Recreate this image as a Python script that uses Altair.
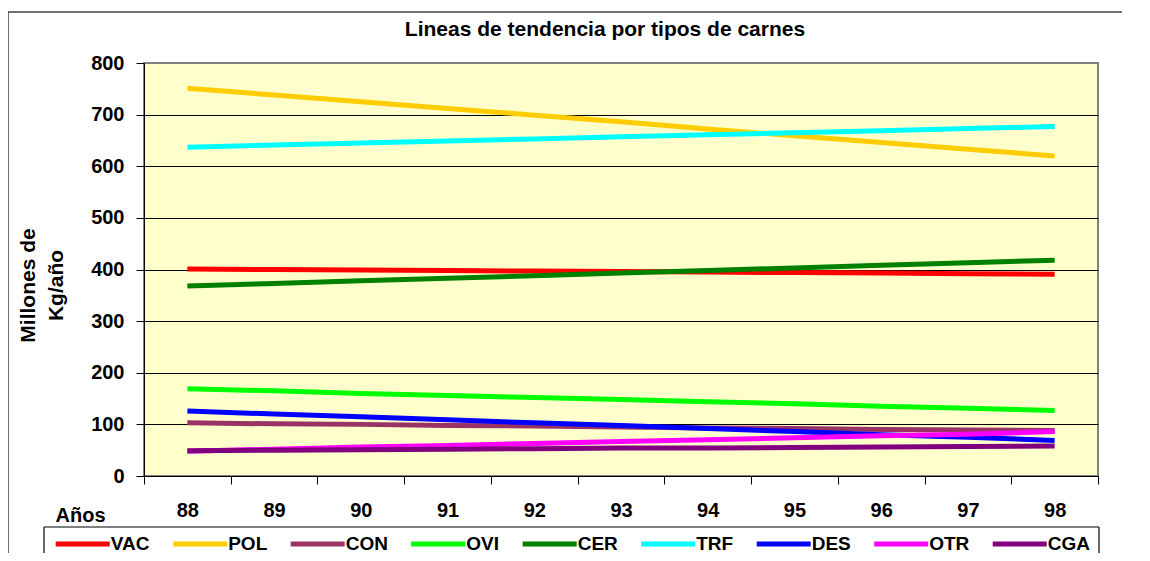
import altair as alt
import pandas as pd

FONT = "Liberation Sans"

chart_title = "Lineas de tendencia por tipos de carnes"
years = ["88", "89", "90", "91", "92", "93", "94", "95", "96", "97", "98"]
series = ["VAC", "POL", "CON", "OVI", "CER", "TRF", "DES", "OTR", "CGA"]
colors = ["#FF0000", "#FFCC00", "#993366", "#00FF00", "#008000",
          "#00FFFF", "#0000FF", "#FF00FF", "#800080"]

vac = [401, 400, 399, 398, 397, 396, 395, 394, 393, 392, 391]
pol = [751, 738, 725, 712, 699, 686, 672, 659, 646, 633, 620]
con = [103, 101, 100, 98, 97, 95, 93, 92, 90, 89, 88]
ovi = [169, 165, 160, 156, 152, 148, 144, 140, 135, 131, 127]
cer = [368, 373, 378, 383, 388, 393, 398, 403, 408, 413, 418]
trf = [637, 641, 645, 649, 653, 657, 661, 665, 669, 673, 677]
des = [126, 120, 115, 109, 103, 98, 92, 86, 80, 75, 69]
otr = [48, 52, 56, 59, 63, 67, 70, 74, 78, 81, 86]
cga = [49, 50, 51, 52, 53, 54, 54, 55, 56, 57, 58]

values_by_series = [vac, pol, con, ovi, cer, trf, des, otr, cga]

rows = []
for name, vals in zip(series, values_by_series):
    for yr, v in zip(years, vals):
        rows.append({"serie": name, "year": yr, "value": v})
df = pd.DataFrame(rows)

x_enc = alt.X(
    "year:O",
    sort=years,
    scale=alt.Scale(type="band", paddingInner=0, paddingOuter=0),
    axis=alt.Axis(
        title="Años",
        titleX=-89, titleY=45, titleAlign="left", titleBaseline="alphabetic",
        titleFont=FONT, titleFontSize=20, titleFontWeight="bold", titleColor="black",
        labelAngle=0, labelFont=FONT, labelFontSize=20, labelFontWeight="bold",
        labelColor="black", labelPadding=16,
        tickBand="extent", ticks=True, tickSize=8, tickColor="black", tickWidth=1,
        domainColor="black", domainWidth=1, grid=False,
    ),
)
y_enc = alt.Y(
    "value:Q",
    scale=alt.Scale(domain=[0, 800], nice=False, zero=True),
    axis=alt.Axis(
        title=["Millones de", "Kg/año"],
        titleX=-110, titleY=222, titleAngle=270, titleAlign="center",
        titleBaseline="alphabetic", titleLineHeight=28,
        titleFont=FONT, titleFontSize=21, titleFontWeight="bold", titleColor="black",
        values=[0, 100, 200, 300, 400, 500, 600, 700, 800],
        labelFont=FONT, labelFontSize=20, labelFontWeight="bold", labelColor="black",
        labelPadding=12,
        tickSize=8, tickColor="black", tickWidth=1,
        domainColor="black", domainWidth=1,
        grid=True,
        gridColor={"condition": {"test": "datum.value === 800", "value": "#808080"},
                   "value": "#000000"},
        gridWidth=1,
    ),
)
color_enc = alt.Color(
    "serie:N",
    sort=series,
    scale=alt.Scale(domain=series, range=colors),
    legend=alt.Legend(
        title=None, orient="none", legendX=-74.8, legendY=467.2,
        direction="horizontal", columns=9,
        symbolType="M-2.5,0H2.5", symbolSize=466.56, symbolStrokeWidth=5,
        symbolOpacity=1,
        labelFont=FONT, labelFontSize=19, labelFontWeight="bold", labelColor="black",
        labelOffset=14.5, labelLimit=200, columnPadding=12.5, padding=0,
    ),
)

layers = []
for s in series:
    layers.append(
        alt.Chart(df)
        .transform_filter(alt.datum.serie == s)
        .mark_line(strokeWidth=5, strokeCap="butt")
        .encode(x=x_enc, y=y_enc, color=color_enc)
    )

one = alt.Data(values=[{"k": 1}])

title_mark = alt.Chart(one).mark_text(
    text=chart_title, font=FONT, fontSize=21, fontWeight="bold", color="black",
    align="center", baseline="alphabetic",
).encode(x=alt.value(461), y=alt.value(-27))

frame_style = dict(color="#404040", strokeWidth=1.5)
frame_top = alt.Chart(one).mark_rule(**frame_style).encode(
    x=alt.value(-136), x2=alt.value(978), y=alt.value(-51)
)
frame_left = alt.Chart(one).mark_rule(**frame_style).encode(
    x=alt.value(-136), y=alt.value(-51), y2=alt.value(490)
)

box_style = dict(color="black", strokeWidth=1.2)
box_top = alt.Chart(one).mark_rule(**box_style).encode(
    x=alt.value(-100), x2=alt.value(955), y=alt.value(464)
)
box_left = alt.Chart(one).mark_rule(**box_style).encode(
    x=alt.value(-100), y=alt.value(464), y2=alt.value(490)
)
box_right = alt.Chart(one).mark_rule(**box_style).encode(
    x=alt.value(955), y=alt.value(464), y2=alt.value(490)
)

chart = (
    alt.layer(*layers, title_mark, frame_top, frame_left, box_top, box_left, box_right)
    .properties(
        width=954,
        height=413,
        padding={"left": 136, "top": 55, "right": 24, "bottom": 77},
        autosize=alt.AutoSizeParams(type="none"),
    )
    .configure(background="white")
    .configure_view(fill="#FFFFCC", stroke="#808080", strokeWidth=2)
)

chart.save("out.html", embed_options={"renderer": "svg", "actions": False})
